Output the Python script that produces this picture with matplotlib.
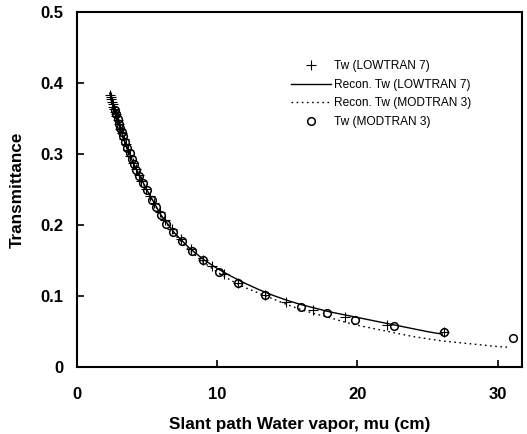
import matplotlib
matplotlib.use('Agg')
import matplotlib.pyplot as plt

plt.rcParams['font.family'] = ['Liberation Sans', 'DejaVu Sans']

# Tw (LOWTRAN 7) points
low_x = [2.35, 2.4, 2.45, 2.5, 2.55, 2.6, 2.65, 2.7, 2.75, 2.8, 2.9, 3.0, 3.1, 3.2,
         3.35, 3.5, 3.65, 3.8, 4.0, 4.2, 4.4, 4.6, 4.9, 5.2, 5.5, 5.9, 6.3, 6.8, 7.4,
         8.1, 9.0, 9.6, 10.5, 11.5, 13.4, 14.9, 16.8, 19.1, 22.1, 26.2]
low_y = [0.384, 0.380, 0.377, 0.373, 0.370, 0.366, 0.363, 0.360, 0.357, 0.354, 0.348,
         0.342, 0.336, 0.330, 0.322, 0.314, 0.306, 0.298, 0.288, 0.279, 0.270, 0.262,
         0.251, 0.241, 0.231, 0.219, 0.207, 0.194, 0.180, 0.166, 0.151, 0.142, 0.131,
         0.119, 0.102, 0.092, 0.081, 0.071, 0.059, 0.049]

# Tw (MODTRAN 3) points
mod_x = [2.7, 2.8, 2.9, 3.0, 3.1, 3.2, 3.3, 3.45, 3.6, 3.75, 3.9, 4.05, 4.2, 4.4, 4.7,
         5.0, 5.33, 5.64, 5.98, 6.36, 6.88, 7.5, 8.19, 8.98, 10.1, 11.5, 13.4, 16.0,
         17.8, 19.8, 22.6, 26.2, 31.1]
mod_y = [0.362, 0.356, 0.349, 0.343, 0.337, 0.331, 0.325, 0.317, 0.309, 0.301, 0.293,
         0.286, 0.278, 0.269, 0.259, 0.250, 0.235, 0.225, 0.215, 0.202, 0.191, 0.177,
         0.163, 0.151, 0.134, 0.119, 0.102, 0.085, 0.076, 0.066, 0.058, 0.049, 0.041]

# Recon. Tw (LOWTRAN 7)
rl_x = [2.35, 2.8, 3.3, 4.0, 5.0, 6.0, 7.0, 8.0, 9.0, 10, 11, 12, 13, 14, 15, 16, 17,
        18, 19, 20, 21, 22, 23, 24, 25, 26.05]
rl_y = [0.386, 0.354, 0.324, 0.288, 0.249, 0.214, 0.188, 0.168, 0.152, 0.139, 0.128,
        0.118, 0.109, 0.101, 0.094, 0.088, 0.083, 0.078, 0.074, 0.070, 0.066, 0.062,
        0.058, 0.054, 0.050, 0.0465]

# Recon. Tw (MODTRAN 3)
rm_x = [2.35, 3, 4, 5, 6, 7, 8, 9, 10, 11, 12, 13, 14, 15, 16, 17, 18, 19, 20, 21,
        22, 23, 24, 25, 26, 27, 28, 29, 30, 30.8]
rm_y = [0.386, 0.342, 0.288, 0.248, 0.213, 0.186, 0.165, 0.148, 0.134, 0.122, 0.112,
        0.104, 0.096, 0.088, 0.081, 0.075, 0.070, 0.064, 0.059, 0.055, 0.051, 0.047,
        0.043, 0.040, 0.037, 0.035, 0.033, 0.031, 0.029, 0.028]

fig = plt.figure(figsize=(5.27, 4.34), dpi=100)
ax = fig.add_axes([0.146, 0.154, 0.845, 0.818])

ax.plot(low_x, low_y, '+', color='black', ms=6.5, mew=0.8, label='Tw (LOWTRAN 7)')
ax.plot(rl_x, rl_y, '-', color='black', lw=1.0, label='Recon. Tw (LOWTRAN 7)')
ax.plot(rm_x, rm_y, color='black', lw=1.0, ls=(0, (1.2, 2.5)), label='Recon. Tw (MODTRAN 3)')
ax.plot(mod_x, mod_y, 'o', color='black', mfc='none', ms=5.5, mew=1.1, label='Tw (MODTRAN 3)')

ax.set_xlim(0, 31.75)
ax.set_ylim(0, 0.5)
ax.set_xticks([0, 10, 20, 30])
ax.set_yticks([0, 0.1, 0.2, 0.3, 0.4, 0.5])
ax.set_yticklabels(['0', '0.1', '0.2', '0.3', '0.4', '0.5'])

for s in ax.spines.values():
    s.set_linewidth(1.5)
ax.tick_params(direction='in', length=5, width=1.2, labelsize=12)
ax.tick_params(axis='y', pad=10)
ax.tick_params(axis='x', pad=14)
for lbl in ax.get_xticklabels() + ax.get_yticklabels():
    lbl.set_fontweight('bold')

ax.set_xlabel('Slant path Water vapor, mu (cm)', fontsize=12.3, fontweight='bold', labelpad=11)
ax.set_ylabel('Transmittance', fontsize=12.3, fontweight='bold', labelpad=11)

ax.legend(loc='upper left', bbox_to_anchor=(0.457, 0.895), frameon=False, fontsize=8.6,
          handlelength=3.3, handletextpad=0.3, labelspacing=0.55)

fig.savefig('out.png', dpi=100)
